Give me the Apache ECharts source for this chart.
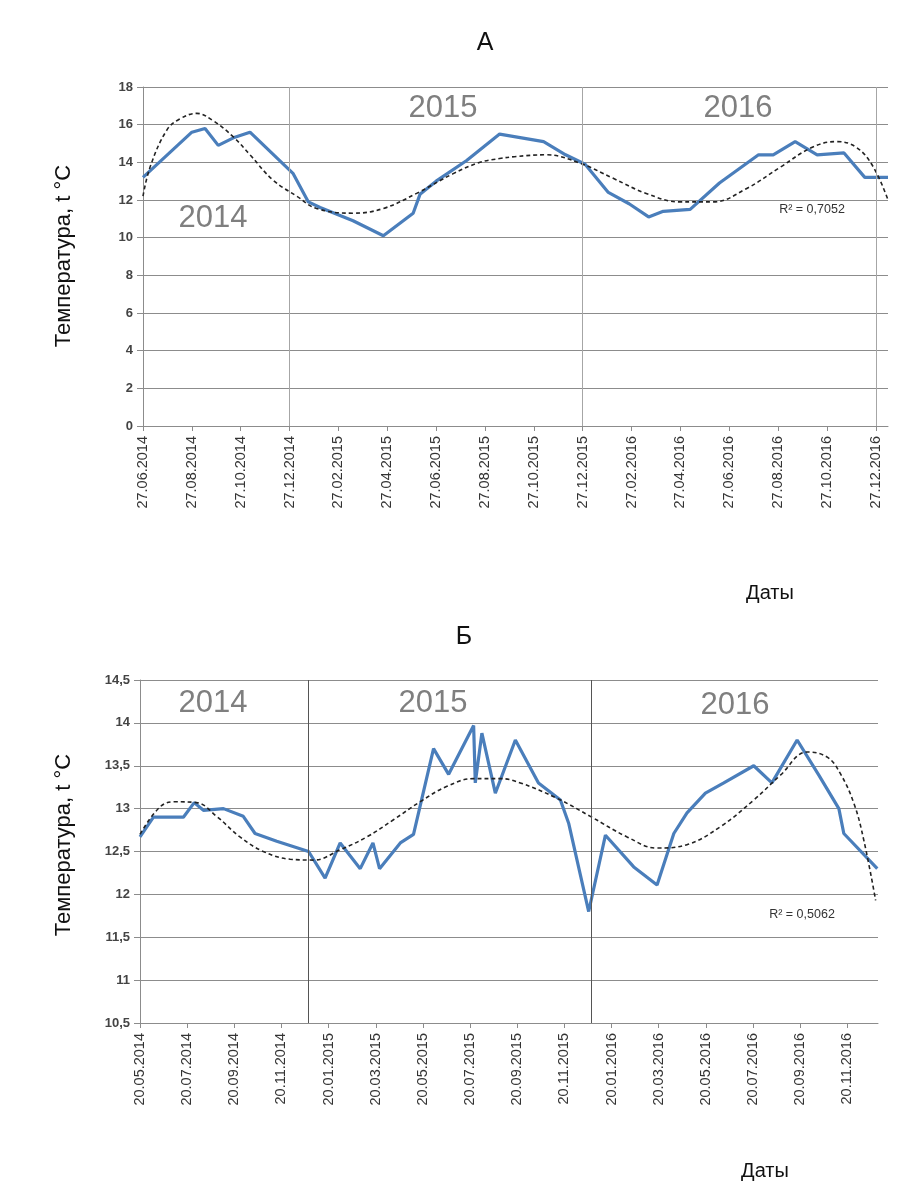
<!DOCTYPE html>
<html><head><meta charset="utf-8">
<script src="https://cdn.jsdelivr.net/npm/echarts@6/dist/echarts.min.js"></script>
<style>html,body{margin:0;padding:0;background:#fff}#c{width:902px;height:1196px}</style>
</head><body><div id="c"></div>
<script>
// X position = months since first tick date
const topTickLabels = ['27.06.2014','27.08.2014','27.10.2014','27.12.2014','27.02.2015','27.04.2015','27.06.2015','27.08.2015','27.10.2015','27.12.2015','27.02.2016','27.04.2016','27.06.2016','27.08.2016','27.10.2016','27.12.2016'];
const bottomTickLabels = ['20.05.2014','20.07.2014','20.09.2014','20.11.2014','20.01.2015','20.03.2015','20.05.2015','20.07.2015','20.09.2015','20.11.2015','20.01.2016','20.03.2016','20.05.2016','20.07.2016','20.09.2016','20.11.2016'];

const topMonths = [0, 2.0, 2.54, 3.08, 3.7, 4.38, 6.15, 6.77, 7.25, 8.6, 9.84, 11.06, 11.34, 12.0, 13.25, 14.6, 16.4, 17.3, 18.1, 19.05, 19.9, 20.7, 21.3, 22.4, 23.6, 25.2, 25.8, 26.7, 27.6, 28.7, 29.55, 30.5];
const topTemps  = [13.2, 15.6, 15.8, 14.9, 15.3, 15.6, 13.4, 11.9, 11.6, 10.9, 10.1, 11.3, 12.3, 13.0, 14.1, 15.5, 15.1, 14.4, 13.9, 12.4, 11.8, 11.1, 11.4, 11.5, 12.9, 14.4, 14.4, 15.1, 14.4, 14.5, 13.2, 13.2];

const topTrendMonths = [0, 0.29, 0.97, 1.5, 2.2, 2.88, 3.7, 4.38, 5.33, 6.3, 7.1, 8.6, 9.84, 11.2, 12.7, 13.8, 14.6, 15.2, 16.5, 17.9, 19.25, 20.6, 21.98, 23.35, 24.7, 26.1, 27.4, 28.4, 29.2, 29.9, 30.5];
const topTrendTemps  = [12.2, 13.75, 15.7, 16.3, 16.6, 16.2, 15.35, 14.4, 13.05, 12.2, 11.55, 11.3, 11.55, 12.35, 13.4, 14.0, 14.2, 14.3, 14.4, 13.95, 13.15, 12.35, 11.9, 11.9, 12.6, 13.75, 14.8, 15.1, 14.8, 13.75, 12.0];

const bottomMonths = [0, 0.57, 1.84, 2.3, 2.69, 3.54, 4.38, 4.88, 5.8, 7.15, 7.85, 8.49, 9.34, 9.88, 10.16, 11.04, 11.6, 12.45, 13.09, 14.15, 14.22, 14.5, 15.07, 15.92, 16.9, 17.83, 18.18, 19.03, 19.74, 20.94, 21.93, 22.64, 23.2, 23.98, 24.76, 26.03, 26.8, 27.87, 28.79, 29.64, 29.85, 31.27];
const bottomTemps  = [12.67, 12.9, 12.9, 13.07, 12.98, 13.0, 12.91, 12.71, 12.62, 12.5, 12.19, 12.6, 12.3, 12.6, 12.3, 12.6, 12.7, 13.7, 13.4, 13.97, 13.3, 13.88, 13.18, 13.8, 13.3, 13.1, 12.83, 11.8, 12.69, 12.32, 12.11, 12.71, 12.95, 13.18, 13.3, 13.5, 13.3, 13.8, 13.39, 13.0, 12.71, 12.3];

const bottomTrendMonths = [0, 0.85, 1.49, 2.4, 3.25, 4.24, 5.23, 6.37, 7.36, 8.49, 9.62, 10.75, 11.88, 13.02, 14.15, 15.28, 16.13, 17.69, 19.1, 20.66, 21.93, 23.2, 24.62, 26.03, 27.16, 28.3, 29.15, 29.7, 30.28, 30.7, 31.2];
const bottomTrendTemps  = [12.7, 13.02, 13.08, 13.07, 12.91, 12.67, 12.5, 12.41, 12.4, 12.52, 12.67, 12.87, 13.08, 13.26, 13.35, 13.35, 13.3, 13.12, 12.91, 12.67, 12.54, 12.58, 12.79, 13.1, 13.39, 13.66, 13.6, 13.41, 13.06, 12.63, 11.93];

const topYearSeparators = [6, 18, 30];
const bottomYearSeparators = [7.15, 19.15];

const zip = (a, b) => a.map((x, i) => [x, b[i]]);
const FONT = 'Liberation Sans';
const yearStyle = {fontSize: 31, fill: '#7f7f7f', fontFamily: FONT};

function xAxisCfg(gridIndex, max, labels) {
  return {
    type: 'value', gridIndex, min: 0, max, interval: 2,
    axisLine: {show: true, lineStyle: {color: '#8c8c8c', width: 1}},
    axisTick: {show: true, length: 5, lineStyle: {color: '#8c8c8c'}},
    splitLine: {show: false},
    axisLabel: {
      rotate: 90, fontSize: 14.5, color: '#333', fontFamily: FONT, margin: 10,
      showMaxLabel: false,
      formatter: v => { const i = Math.round(v / 2); return (Math.abs(v - i * 2) < 1e-6 && labels[i]) ? labels[i] : ''; }
    }
  };
}
function yAxisCfg(gridIndex, min, max, interval) {
  return {
    type: 'value', gridIndex, min, max, interval,
    axisLine: {show: true, lineStyle: {color: '#8c8c8c'}},
    axisTick: {show: true, length: 6, lineStyle: {color: '#8c8c8c'}},
    splitLine: {show: true, lineStyle: {color: '#8c8c8c', width: 1.2}},
    axisLabel: {fontSize: 13, color: '#444', fontWeight: 'bold', fontFamily: FONT, margin: 10,
      formatter: v => String(v).replace('.', ',')}
  };
}
function sepLine(values, color) {
  return {
    silent: true, symbol: ['none', 'none'], label: {show: false},
    lineStyle: {color, type: 'solid', width: 1},
    data: values.map(v => ({xAxis: v}))
  };
}

const chart = echarts.init(document.getElementById('c'), null, {renderer: 'canvas'});
chart.setOption({
  backgroundColor: '#fff',
  animation: false,
  grid: [
    {left: 143, top: 87, width: 745, height: 339},
    {left: 140, top: 680, width: 738, height: 343}
  ],
  xAxis: [xAxisCfg(0, 30.5, topTickLabels), xAxisCfg(1, 31.3, bottomTickLabels)],
  yAxis: [yAxisCfg(0, 0, 18, 2), yAxisCfg(1, 10.5, 14.5, 0.5)],
  series: [
    {type: 'line', xAxisIndex: 0, yAxisIndex: 0, data: zip(topMonths, topTemps), showSymbol: false,
     lineStyle: {color: '#4a7ebb', width: 3.2}, z: 3, markLine: sepLine(topYearSeparators, '#a6a6a6')},
    {type: 'line', xAxisIndex: 0, yAxisIndex: 0, data: zip(topTrendMonths, topTrendTemps), showSymbol: false, smooth: 0.4,
     lineStyle: {color: '#222', width: 1.6, type: [4, 3]}, z: 4},
    {type: 'line', xAxisIndex: 1, yAxisIndex: 1, data: zip(bottomMonths, bottomTemps), showSymbol: false,
     lineStyle: {color: '#4a7ebb', width: 3.2}, z: 3, markLine: sepLine(bottomYearSeparators, '#555')},
    {type: 'line', xAxisIndex: 1, yAxisIndex: 1, data: zip(bottomTrendMonths, bottomTrendTemps), showSymbol: false, smooth: 0.4,
     lineStyle: {color: '#222', width: 1.6, type: [4, 3]}, z: 4}
  ],
  graphic: [
    {type: 'text', x: 485, y: 43, style: {text: 'А', fontSize: 25, fill: '#111', fontFamily: FONT, align: 'center', verticalAlign: 'middle'}},
    {type: 'text', x: 464, y: 637, style: {text: 'Б', fontSize: 25, fill: '#111', fontFamily: FONT, align: 'center', verticalAlign: 'middle'}},
    {type: 'text', x: 64, y: 256, rotation: Math.PI / 2, style: {text: 'Температура, t °C', fontSize: 22, fill: '#111', fontFamily: FONT, align: 'center', verticalAlign: 'middle'}},
    {type: 'text', x: 64, y: 845, rotation: Math.PI / 2, style: {text: 'Температура, t °C', fontSize: 22, fill: '#111', fontFamily: FONT, align: 'center', verticalAlign: 'middle'}},
    {type: 'text', x: 770, y: 593, style: {text: 'Даты', fontSize: 20, fill: '#111', fontFamily: FONT, align: 'center', verticalAlign: 'middle'}},
    {type: 'text', x: 765, y: 1171, style: {text: 'Даты', fontSize: 20, fill: '#111', fontFamily: FONT, align: 'center', verticalAlign: 'middle'}},
    {type: 'text', x: 812, y: 210, style: {text: 'R² = 0,7052', fontSize: 12.5, fill: '#333', fontFamily: FONT, align: 'center', verticalAlign: 'middle'}},
    {type: 'text', x: 802, y: 915, style: {text: 'R² = 0,5062', fontSize: 12.5, fill: '#333', fontFamily: FONT, align: 'center', verticalAlign: 'middle'}},
    {type: 'text', x: 213, y: 218, style: Object.assign({text: '2014', align: 'center', verticalAlign: 'middle'}, yearStyle)},
    {type: 'text', x: 443, y: 108, style: Object.assign({text: '2015', align: 'center', verticalAlign: 'middle'}, yearStyle)},
    {type: 'text', x: 738, y: 108, style: Object.assign({text: '2016', align: 'center', verticalAlign: 'middle'}, yearStyle)},
    {type: 'text', x: 213, y: 703, style: Object.assign({text: '2014', align: 'center', verticalAlign: 'middle'}, yearStyle)},
    {type: 'text', x: 433, y: 703, style: Object.assign({text: '2015', align: 'center', verticalAlign: 'middle'}, yearStyle)},
    {type: 'text', x: 735, y: 705, style: Object.assign({text: '2016', align: 'center', verticalAlign: 'middle'}, yearStyle)}
  ]
});
</script></body></html>
